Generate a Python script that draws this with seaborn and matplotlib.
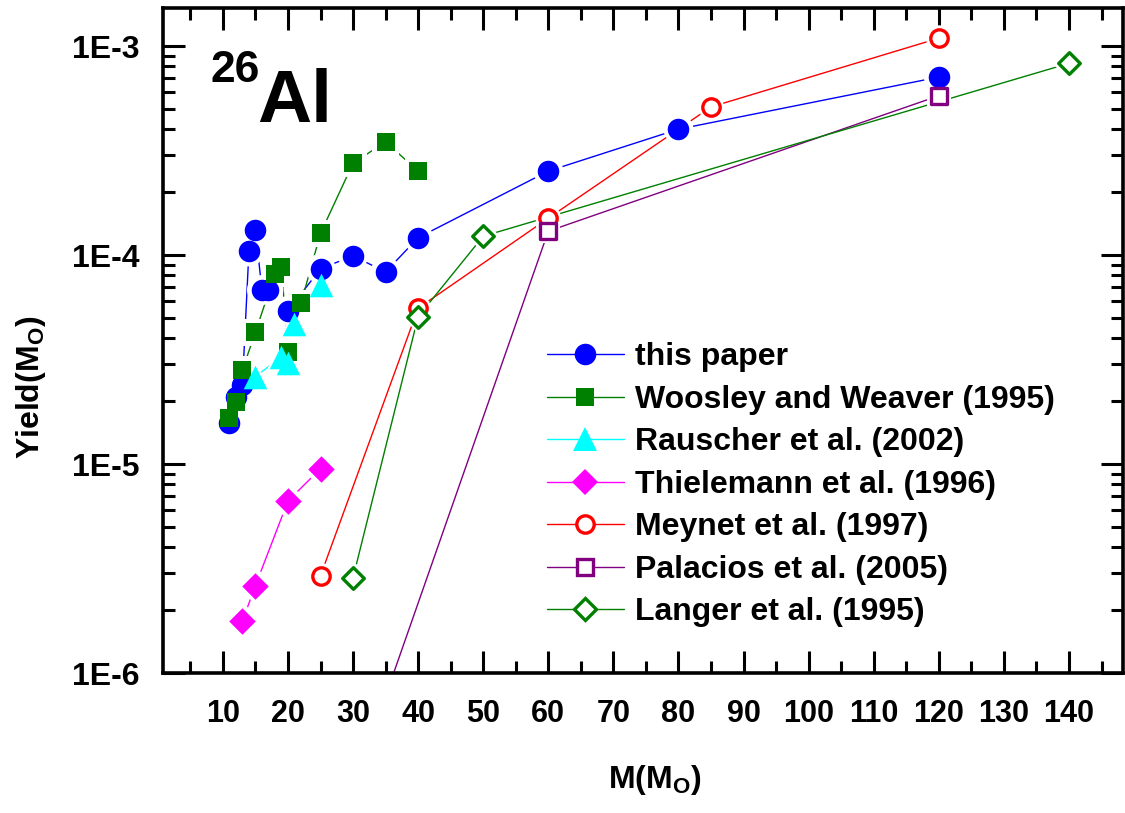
import numpy as np
import pandas as pd
import seaborn as sns
import matplotlib
matplotlib.use("Agg")
import matplotlib.pyplot as plt
from matplotlib.lines import Line2D
from matplotlib.ticker import FixedLocator, LogLocator, NullFormatter, FuncFormatter

# 26Al yields
m_this = [11, 12, 13, 14, 15, 16, 17, 20, 25, 30, 35, 40, 60, 80, 120]
y_this = [1.57e-5, 2.1e-5, 2.38e-5, 1.04e-4, 1.32e-4, 6.8e-5, 6.8e-5, 5.4e-5,
          8.6e-5, 9.9e-5, 8.3e-5, 1.21e-4, 2.52e-4, 4.0e-4, 7.1e-4]

m_ww = [11, 12, 13, 15, 18, 19, 20, 22, 25, 30, 35, 40]
y_ww = [1.66e-5, 1.99e-5, 2.82e-5, 4.27e-5, 8.15e-5, 8.77e-5, 3.44e-5, 5.87e-5,
        1.27e-4, 2.75e-4, 3.48e-4, 2.52e-4]

m_rau = [15, 19, 20, 21, 25]
y_rau = [2.62e-5, 3.26e-5, 3.03e-5, 4.68e-5, 7.18e-5]

m_thi = [13, 15, 20, 25]
y_thi = [1.77e-6, 2.62e-6, 6.65e-6, 9.5e-6]

m_mey = [25, 40, 60, 85, 120]
y_mey = [2.92e-6, 5.56e-5, 1.50e-4, 5.11e-4, 1.09e-3]

m_pal = [25, 60, 120]
y_pal = [1.0e-7, 1.30e-4, 5.78e-4]

m_lan = [30, 40, 50, 140]
y_lan = [2.86e-6, 5.07e-5, 1.23e-4, 8.26e-4]

labels = ["this paper", "Woosley and Weaver (1995)", "Rauscher et al. (2002)",
          "Thielemann et al. (1996)", "Meynet et al. (1997)",
          "Palacios et al. (2005)", "Langer et al. (1995)"]

sns.set_style("ticks")
plt.rcParams["font.family"] = ["Liberation Sans", "DejaVu Sans"]
plt.rcParams["font.weight"] = "bold"
plt.rcParams["mathtext.fontset"] = "custom"
plt.rcParams["mathtext.rm"] = "Liberation Sans:bold"
plt.rcParams["mathtext.bf"] = "Liberation Sans:bold"
plt.rcParams["mathtext.it"] = "Liberation Sans:bold"
for key in ["text.color", "axes.labelcolor", "xtick.color", "ytick.color", "axes.edgecolor"]:
    plt.rcParams[key] = "black"

fig = plt.figure(figsize=(11.25, 8.13), dpi=100)
ax = fig.add_axes([163 / 1125, 1 - 673 / 813, 960 / 1125, 665 / 813])

# (x, y, colour, marker, size, filled, edge width)
series = [
    (m_this, y_this, "#0000ff", "o", 15.5, True, 0),
    (m_ww, y_ww, "#008000", "s", 13.5, True, 0),
    (m_rau, y_rau, "#00ffff", "^", 17, True, 0),
    (m_thi, y_thi, "#ff00ff", "D", 13.5, True, 0),
    (m_mey, y_mey, "#ff0000", "o", 12.5, False, 2.4),
    (m_pal, y_pal, "#800080", "s", 11.5, False, 2.4),
    (m_lan, y_lan, "#008000", "D", 11, False, 2.4),
]

handles = []
for (mx, my, col, mk, ms, filled, ew), lab in zip(series, labels):
    df = pd.DataFrame({"M": mx, "Y": my})
    sns.lineplot(data=df, x="M", y="Y", ax=ax, color=col, lw=1.0, sort=False)
    # white halo gives the small gap between line and marker
    sns.scatterplot(data=df, x="M", y="Y", ax=ax, marker=mk, s=(ms + 6) ** 2,
                    color="white", edgecolor="none", zorder=3)
    sns.scatterplot(data=df, x="M", y="Y", ax=ax, marker=mk, s=ms ** 2,
                    facecolor=col if filled else "white",
                    edgecolor=col, linewidth=ew, zorder=4)
    handles.append(Line2D([], [], color=col, lw=1.0, marker=mk, ms=ms,
                          mfc=col if filled else "white", mec=col,
                          mew=ew if not filled else 0))

ax.set_yscale("log")
ax.set_xlim(0.8, 148.3)
ax.set_ylim(1e-6, 1.52e-3)

ax.xaxis.set_major_locator(FixedLocator(np.arange(10, 150, 10)))
ax.xaxis.set_minor_locator(FixedLocator(np.arange(5, 150, 10)))
ax.yaxis.set_major_locator(LogLocator(base=10))
ax.yaxis.set_minor_locator(LogLocator(base=10, subs=np.arange(2, 10)))
ax.yaxis.set_minor_formatter(NullFormatter())
ax.yaxis.set_major_formatter(FuncFormatter(lambda v, p: "1E%d" % round(np.log10(v))))

ax.tick_params(which="both", direction="in", top=True, right=True, width=2.2)
ax.tick_params(which="major", length=16)
ax.tick_params(which="minor", length=8.5)
ax.tick_params(axis="y", which="major", labelsize=23, pad=17)
ax.tick_params(axis="x", which="major", labelsize=22, pad=19)
for sp in ax.spines.values():
    sp.set_linewidth(2.6)
    sp.set_visible(True)

ax.set_xlabel(r"M(M$_{\mathrm{O}}$)", fontsize=23, fontweight="bold")
ax.set_ylabel(r"Yield(M$_{\mathrm{O}}$)", fontsize=23, fontweight="bold")
ax.xaxis.set_label_coords(0.5125, -0.135)
ax.yaxis.set_label_coords(-0.12, 0.43)

ax.text(0.049, 0.937, "26", transform=ax.transAxes, fontsize=32,
        fontweight="bold", ha="left", va="top")
ax.text(0.098, 0.8286, "Al", transform=ax.transAxes, fontsize=54,
        fontweight="bold", ha="left", va="baseline")

leg = ax.legend(handles, labels, loc="upper left", bbox_to_anchor=(0.40, 0.497),
                frameon=False, fontsize=23, handlelength=2.4, handletextpad=0.35,
                labelspacing=0.39, borderpad=0, borderaxespad=0)

fig.savefig("out.png", dpi=100)
